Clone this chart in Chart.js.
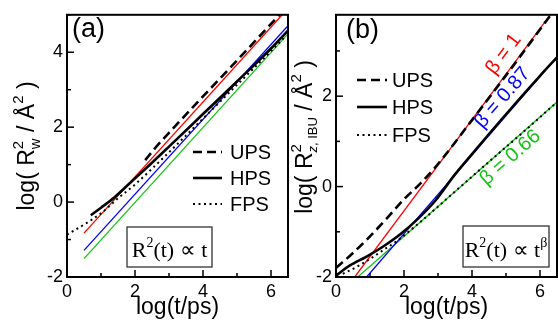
<!DOCTYPE html>
<html><head><meta charset="utf-8">
<script src="https://cdn.jsdelivr.net/npm/chart.js@4.4.1/dist/chart.umd.min.js"></script>
<style>
html,body{margin:0;padding:0;background:#fff;}
#wrap{position:relative;width:558px;height:322px;overflow:hidden;background:#fff;}
#wrap canvas{position:absolute;top:0;}
</style></head><body>
<div id="wrap">
<canvas id="ca" width="290" height="322" style="left:0"></canvas>
<canvas id="cb" width="280" height="322" style="left:278px"></canvas>
</div>
<script>
// panel (a): log(Rw^2) vs log(t)
var aUpsX = [2.3, 2.6, 3.0, 4.0, 5.0, 6.25];
var aUpsY = [1.12, 1.45, 1.85, 2.82, 3.78, 5.0];
var aHpsX = [0.7, 1.0, 1.4, 1.9, 2.5, 3.0, 4.0, 5.0, 6.0, 6.5];
var aHpsY = [-0.35, -0.15, 0.13, 0.55, 1.05, 1.48, 2.35, 3.22, 4.1, 4.58];
var aFpsX = [0, 0.5, 1.0, 1.5, 2.0, 3.0, 4.0, 5.0, 6.0, 6.4];
var aFpsY = [-0.87, -0.6, -0.3, 0.1, 0.47, 1.33, 2.23, 3.13, 4.03, 4.4];
var aFitRedX = [0.5, 6.33],  aFitRedY = [-0.83, 5.0];
var aFitBlueX = [0.5, 6.5],  aFitBlueY = [-1.29, 4.71];
var aFitGreenX = [0.5, 6.5], aFitGreenY = [-1.51, 4.49];

// panel (b): log(Rz^2) vs log(t)
var bUpsX = [0, 0.5, 1.0, 1.5, 2.0, 2.5, 3.0, 4.0, 5.0, 6.3];
var bUpsY = [-1.8, -1.47, -1.1, -0.7, -0.28, 0.08, 0.5, 1.47, 2.46, 3.78];
var bHpsX = [0, 0.4, 0.9, 1.4, 1.9, 2.4, 2.9, 3.5, 4.0, 5.0, 6.0, 6.5];
var bHpsY = [-1.97, -1.75, -1.55, -1.32, -1.05, -0.72, -0.33, 0.27, 0.72, 1.6, 2.45, 2.86];
var bFpsX = [0.2, 0.6, 1.0, 1.4, 1.8, 2.5, 3.5, 4.5, 5.5, 6.5];
var bFpsY = [-1.93, -1.78, -1.6, -1.4, -1.2, -0.77, -0.11, 0.55, 1.2, 1.87];
var bFitRedX = [0.55, 6.3],  bFitRedY = [-2.0, 3.8];
var bFitBlueX = [0.9, 6.5],  bFitBlueY = [-2.0, 2.87];
var bFitGreenX = [0.64, 6.5], bFitGreenY = [-2.0, 1.87];

var seriesNames = ['UPS', 'HPS', 'FPS'];
var betaLabels = ['\u03b2 = 1', '\u03b2 = 0.87', '\u03b2 = 0.66'];
var xTitle = 'log(t/ps)';

var SANS = '"Liberation Sans", Arial, sans-serif';
var SERIF = '"Liberation Serif", "Times New Roman", serif';
var RED = '#ff0000', BLUE = '#0000ff', GREEN = '#13c313';

function pts(xs, ys){ return xs.map(function(x, i){ return {x: x, y: ys[i]}; }); }

var styles = [
	{borderColor:'#000', borderWidth:2.6, borderDash:[9,5], cubicInterpolationMode:'monotone'},
	{borderColor:'#000', borderWidth:2.6, borderDash:[], cubicInterpolationMode:'monotone'},
	{borderColor:'#000', borderWidth:2, borderDash:[2,3.5], cubicInterpolationMode:'monotone'}
];

function sets(ups, hps, fps, red, blue, green){
	var out = [ups, hps, fps].map(function(d, i){
		return Object.assign({label: seriesNames[i], data: d, pointRadius:0, fill:false}, styles[i]);
	});
	[[red, RED], [blue, BLUE], [green, GREEN]].forEach(function(f){
		out.push({data: f[0], borderColor: f[1], borderWidth:1.3, pointRadius:0, fill:false});
	});
	return out;
}

// rich text: segs = [{t, f, dy, mode}] mode: 'stack' -> same start as previous, 'cont' -> after previous
function rich(ctx, segs, x, y, rot){
	var far = 0, pStart = 0, pEnd = 0, placed = [];
	segs.forEach(function(s){
		ctx.font = s.f;
		var w = ctx.measureText(s.t).width;
		var st = s.mode === 'stack' ? pStart : (s.mode === 'cont' ? pEnd : far);
		placed.push(st);
		pStart = st; pEnd = st + w;
		far = Math.max(far, pEnd);
	});
	ctx.save();
	ctx.translate(x, y);
	if(rot) ctx.rotate(rot);
	ctx.textBaseline = 'alphabetic';
	ctx.textAlign = 'left';
	segs.forEach(function(s, i){
		ctx.font = s.f;
		ctx.fillText(s.t, placed[i] - far/2, s.dy || 0);
	});
	ctx.restore();
}

function line(ctx, x1, y1, x2, y2){ ctx.beginPath(); ctx.moveTo(x1, y1); ctx.lineTo(x2, y2); ctx.stroke(); }

function decor(spec){
	return {
		id: 'decor',
		afterDraw: function(chart){
			var ctx = chart.ctx, a = chart.chartArea, xs = chart.scales.x, ys = chart.scales.y;
			ctx.save();
			ctx.strokeStyle = '#000'; ctx.fillStyle = '#000';
			ctx.lineWidth = 1.5;
			xs.ticks.forEach(function(t){
				var px = xs.getPixelForValue(t.value);
				line(ctx, px, a.bottom, px, a.bottom - (t.value % 2 === 0 ? 7 : 4));
			});
			ys.ticks.forEach(function(t){
				var py = ys.getPixelForValue(t.value);
				line(ctx, a.left, py, a.left + (t.value % 2 === 0 ? 7 : 4), py);
			});
			ctx.lineWidth = 2;
			ctx.strokeRect(a.left, a.top, a.right - a.left, a.bottom - a.top);

			// panel label
			ctx.font = '27px ' + SANS;
			ctx.textBaseline = 'middle'; ctx.textAlign = 'left';
			ctx.fillText(spec.panel, spec.panelX, spec.panelY);

			// x title
			ctx.font = '23px ' + SANS;
			ctx.textAlign = 'center'; ctx.textBaseline = 'alphabetic';
			ctx.fillText(xTitle, (a.left + a.right)/2, 314);

			// y title
			rich(ctx, spec.yTitle, spec.yTitleX, spec.yTitleY, -Math.PI/2);

			// legend
			spec.legend.ys.forEach(function(ly, i){
				ctx.strokeStyle = '#000';
				ctx.lineWidth = styles[i].borderWidth;
				ctx.setLineDash(styles[i].borderDash);
				line(ctx, spec.legend.x1, ly, spec.legend.x2, ly);
				ctx.setLineDash([]);
				ctx.font = '20px ' + SANS;
				ctx.textAlign = 'left'; ctx.textBaseline = 'middle';
				ctx.fillText(seriesNames[i], spec.legend.tx, ly + 1);
			});

			// boxed formula
			var b = spec.box;
			ctx.lineWidth = 1.3; ctx.strokeStyle = '#333';
			ctx.strokeRect(b.x, b.y, b.w, b.h);
			ctx.fillStyle = '#000';
			rich(ctx, b.segs, b.x + b.w/2, b.y + b.h - 10, 0);

			// beta labels along the fits
			(spec.betas || []).forEach(function(bl){
				var p0x = xs.getPixelForValue(0), p1x = xs.getPixelForValue(1);
				var p0y = ys.getPixelForValue(0), p1y = ys.getPixelForValue(bl.slope);
				var ang = Math.atan2(p1y - p0y, p1x - p0x);
				ctx.save();
				ctx.translate(xs.getPixelForValue(bl.x), ys.getPixelForValue(bl.y));
				ctx.rotate(ang);
				ctx.fillStyle = bl.color;
				ctx.font = '20px ' + SANS;
				ctx.textAlign = 'center'; ctx.textBaseline = 'middle';
				ctx.fillText(bl.text, 0, 0);
				ctx.restore();
			});
			ctx.restore();
		}
	};
}

function makeChart(id, datasets, yMax, yWidth, padRight, spec){
	return new Chart(document.getElementById(id), {
		type: 'line',
		data: {datasets: datasets},
		options: {
			responsive: false, animation: false, devicePixelRatio: 1,
			layout: {padding: {left: 0, top: 13, right: padRight, bottom: 0}},
			plugins: {legend: {display: false}, tooltip: {enabled: false}},
			scales: {
				x: {type: 'linear', min: 0, max: 6.5,
					ticks: {stepSize: 1, includeBounds: false, autoSkip: false, maxRotation: 0, padding: 4, color: '#000',
						font: {family: SANS, size: 18}, callback: function(v){ return v % 2 === 0 ? String(v) : ''; }},
					grid: {display: false, drawTicks: false}, border: {display: false},
					afterFit: function(s){ s.height = 45; }},
				y: {type: 'linear', min: -2, max: yMax,
					ticks: {stepSize: 1, includeBounds: false, autoSkip: false, padding: 4, color: '#000',
						font: {family: SANS, size: 18}, callback: function(v){ return v % 2 === 0 ? String(v) : ''; }},
					grid: {display: false, drawTicks: false}, border: {display: false},
					afterFit: function(s){ s.width = yWidth; }}
			}
		},
		plugins: [decor(spec)]
	});
}

var big = '23px ' + SANS, small = '15px ' + SANS;

makeChart('ca',
	sets(pts(aUpsX, aUpsY), pts(aHpsX, aHpsY), pts(aFpsX, aFpsY),
		pts(aFitRedX, aFitRedY), pts(aFitBlueX, aFitBlueY), pts(aFitGreenX, aFitGreenY)),
	5, 67, 2,
	{
		panel: '(a)', panelX: 72, panelY: 30,
		yTitle: [
			{t: 'log( R', f: big, dy: 8}, {t: '2', f: small, dy: -3}, {t: 'w', f: small, dy: 14, mode: 'stack'},
			{t: ' / \u00c5', f: big, dy: 8}, {t: '2', f: small, dy: -3}, {t: ' )', f: big, dy: 8}
		],
		yTitleX: 26, yTitleY: 146,
		legend: {x1: 193, x2: 222, tx: 230, ys: [152, 178, 204]},
		box: {x: 127, y: 227, w: 85, h: 40, segs: [
			{t: 'R', f: '22px ' + SERIF}, {t: '2', f: '14px ' + SERIF, dy: -10}, {t: '(t) \u221d t', f: '22px ' + SERIF}
		]}
	});

makeChart('cb',
	sets(pts(bUpsX, bUpsY), pts(bHpsX, bHpsY), pts(bFpsX, bFpsY),
		pts(bFitRedX, bFitRedY), pts(bFitBlueX, bFitBlueY), pts(bFitGreenX, bFitGreenY)),
	3.8, 58, 1,
	{
		panel: '(b)', panelX: 68, panelY: 31,
		yTitle: [
			{t: 'log( R', f: big, dy: 8}, {t: '2', f: small, dy: -3},
			{t: 'z', f: 'italic 13px ' + SANS, dy: 13, mode: 'stack'}, {t: ', IBU', f: '13px ' + SANS, dy: 13, mode: 'cont'},
			{t: ' / \u00c5', f: big, dy: 8}, {t: '2', f: small, dy: -3}, {t: ' )', f: big, dy: 8}
		],
		yTitleX: 26, yTitleY: 137,
		legend: {x1: 79, x2: 109, tx: 114, ys: [80, 107, 135]},
		box: {x: 185, y: 226, w: 86, h: 41, segs: [
			{t: 'R', f: '22px ' + SERIF}, {t: '2', f: '14px ' + SERIF, dy: -10}, {t: '(t) \u221d t', f: '22px ' + SERIF},
			{t: '\u03b2', f: '14px ' + SERIF, dy: -10}
		]},
		betas: [
			{text: betaLabels[0], x: 4.93, y: 2.93, slope: 1.0, color: RED},
			{text: betaLabels[1], x: 4.9, y: 1.96, slope: 0.87, color: BLUE},
			{text: betaLabels[2], x: 5.13, y: 0.64, slope: 0.66, color: GREEN}
		]
	});
</script>
</body></html>
